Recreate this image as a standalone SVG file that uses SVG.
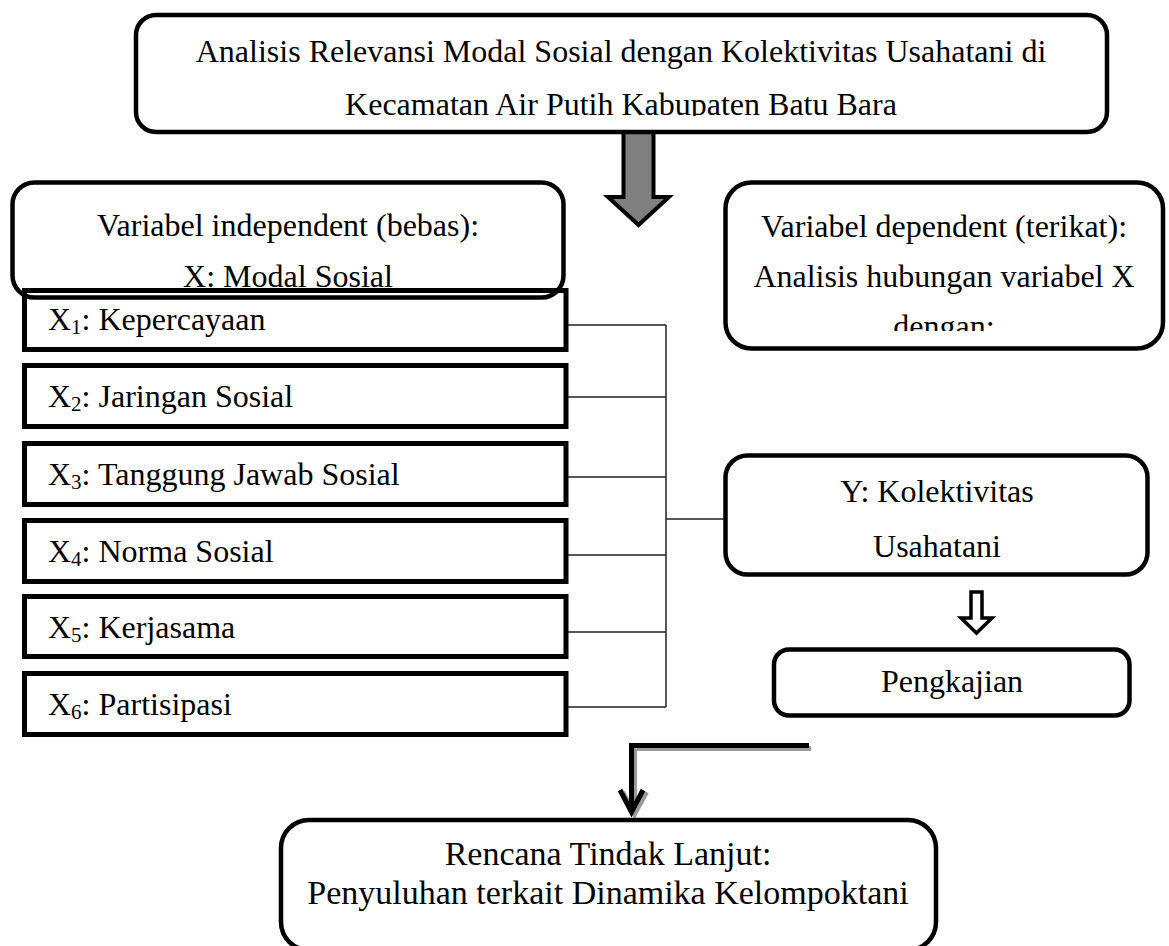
<svg xmlns="http://www.w3.org/2000/svg" width="1169" height="946" viewBox="0 0 1169 946">
<style>
text{font-family:"Liberation Serif","Times New Roman",serif;font-size:32px;fill:#000}
.c{text-anchor:middle}
.big{font-size:34px}
.rb{fill:#fff;stroke:#000;stroke-width:4.5}
.sb{fill:#fff;stroke:#000;stroke-width:5}
.ln{fill:none;stroke:#222;stroke-width:1.5}
.sub{font-size:21px}
</style>
<defs>
<clipPath id="clipTitle"><rect x="136" y="15" width="971" height="101"/></clipPath>
<clipPath id="clipDep"><rect x="726" y="183" width="437" height="148"/></clipPath>
</defs>
<g id="connectors">
<path class="ln" d="M567 325H666M567 397H666M567 477H666M567 555H666M567 632H666M567 707H666M666 325V707M666 519H725"/>
<polygon id="bigArrow" points="623.5,128 653.5,128 653.5,197 669,197 638.5,225 608,197 623.5,197" fill="#808080" stroke="#000" stroke-width="4"/>
<polygon id="hollowArrow" points="971,592 982,592 982,618 992,618 976.5,633 961,618 971,618" fill="#fff" stroke="#000" stroke-width="3.5"/>
<g id="elbowArrow" fill="none" stroke-width="5">
<path d="M811 748.5H634.5V814" stroke="#9a9a9a"/>
<polyline points="622.5,792 634.5,814 646.5,792" stroke="#9a9a9a"/>
<path d="M809 745.5H631.5V812" stroke="#000"/>
<polyline points="620,790 631.5,812 643,790" stroke="#000" stroke-linejoin="miter"/>
</g>
</g>
<g id="title">
<rect class="rb" x="136" y="15" width="971" height="117" rx="20"/>
<g clip-path="url(#clipTitle)">
<text class="c" x="621" y="62">Analisis Relevansi Modal Sosial dengan Kolektivitas Usahatani di</text>
<text class="c" x="621" y="115">Kecamatan Air Putih Kabupaten Batu Bara</text>
</g>
</g>
<g id="x1"><rect class="sb" x="24.5" y="290.5" width="541.5" height="59"/><text x="48" y="330">X<tspan class="sub" dy="4">1</tspan><tspan dy="-4">: Kepercayaan</tspan></text></g>
<g id="x2"><rect class="sb" x="24.5" y="365.5" width="541.5" height="61"/><text x="48" y="407">X<tspan class="sub" dy="4">2</tspan><tspan dy="-4">: Jaringan Sosial</tspan></text></g>
<g id="x3"><rect class="sb" x="24.5" y="443.5" width="541.5" height="61"/><text x="48" y="485">X<tspan class="sub" dy="4">3</tspan><tspan dy="-4">: Tanggung Jawab Sosial</tspan></text></g>
<g id="x4"><rect class="sb" x="24.5" y="520.5" width="541.5" height="61"/><text x="48" y="562">X<tspan class="sub" dy="4">4</tspan><tspan dy="-4">: Norma Sosial</tspan></text></g>
<g id="x5"><rect class="sb" x="24.5" y="596.5" width="541.5" height="60"/><text x="48" y="638">X<tspan class="sub" dy="4">5</tspan><tspan dy="-4">: Kerjasama</tspan></text></g>
<g id="x6"><rect class="sb" x="24.5" y="673.5" width="541.5" height="61"/><text x="48" y="715">X<tspan class="sub" dy="4">6</tspan><tspan dy="-4">: Partisipasi</tspan></text></g>
<g id="independent">
<rect x="12.5" y="182.5" width="551" height="115" rx="22" fill="none" stroke="#000" stroke-width="4.5"/>
<text class="c" x="288" y="236">Variabel independent (bebas):</text>
<text class="c" x="288" y="287">X: Modal Sosial</text>
</g>
<g id="dependent">
<rect class="rb" x="725.5" y="182.5" width="437.5" height="166" rx="26"/>
<g clip-path="url(#clipDep)">
<text class="c" x="944" y="237">Variabel dependent (terikat):</text>
<text class="c" x="944" y="287">Analisis hubungan variabel X</text>
<text class="c" x="944" y="337">dengan:</text>
</g>
</g>
<g id="y">
<rect class="rb" x="725.5" y="455.5" width="422" height="119" rx="22"/>
<text class="c" x="937" y="502">Y: Kolektivitas</text>
<text class="c" x="937" y="557">Usahatani</text>
</g>
<g id="pengkajian">
<rect class="rb" x="774" y="649.5" width="355.5" height="66" rx="15"/>
<text class="c" x="952" y="692">Pengkajian</text>
</g>
<g id="rencana">
<rect class="rb" x="281" y="820" width="655" height="130" rx="28"/>
<text class="c big" x="608" y="865">Rencana Tindak Lanjut:</text>
<text class="c big" x="608" y="904">Penyuluhan terkait Dinamika Kelompoktani</text>
</g>
</svg>
